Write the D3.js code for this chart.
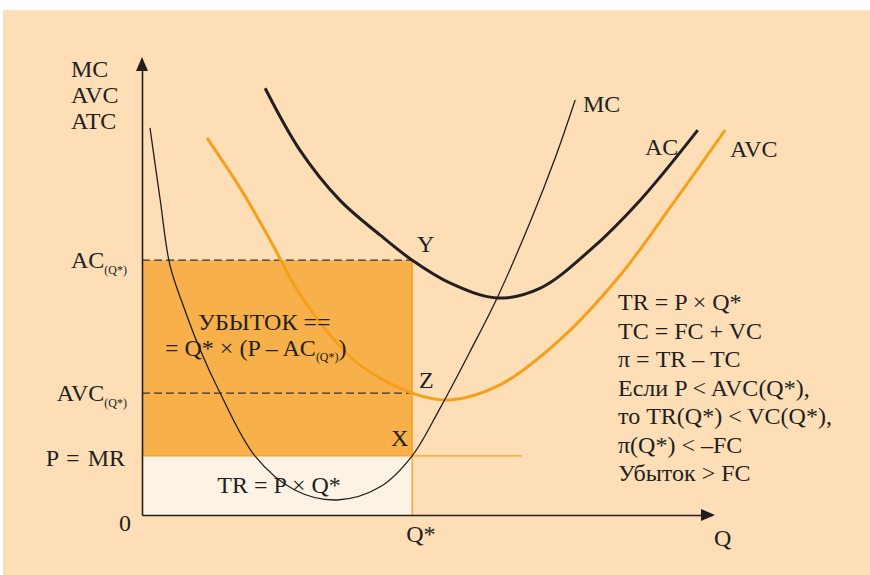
<!DOCTYPE html>
<html>
<head>
<meta charset="utf-8">
<script src="https://cdn.jsdelivr.net/npm/d3@7"></script>
<style>
  body { margin: 0; background: #fff; }
  svg text { font-family: "Liberation Serif", "Times New Roman", Times, "DejaVu Serif", serif; fill: #231f20; }
</style>
</head>
<body>
<svg id="chart"></svg>
<script>
// кривые (Q, издержки) в условных единицах
const mcPoints = [[0.14, 8.51], [0.32, 6.92], [0.49, 5.49], [0.75, 4.51], [1.02, 3.63], [1.37, 2.68],
  [1.98, 1.30], [2.68, 0.55], [3.42, 0.33], [4.18, 0.62], [4.74, 1.30], [5.23, 2.35], [5.75, 3.58],
  [6.23, 4.77], [6.81, 6.44], [7.25, 7.85], [7.60, 9.12]];
const acPoints = [[2.16, 9.38], [2.77, 8.02], [3.47, 6.92], [4.18, 6.15], [4.74, 5.60], [5.40, 5.10],
  [6.23, 4.77], [6.98, 4.98], [7.86, 5.82], [8.74, 6.92], [9.75, 8.46]];
const avcPoints = [[1.14, 8.29], [1.72, 7.19], [2.25, 6.04], [2.72, 4.95], [3.30, 3.96], [3.82, 3.30],
  [4.74, 2.68], [5.40, 2.53], [6.28, 2.86], [7.33, 3.85], [8.39, 5.27], [9.26, 6.75], [10.23, 8.46]];

const qStar = 4.74;
const acQ = 5.60;
const avcQ = 2.68;
const price = 1.30;
const mrEnd = 6.66;

const yLabels = ["MC", "AVC", "ATC"];
const formulas = ["TR = P × Q*", "TC = FC + VC", "π = TR – TC", "Если P < AVC(Q*),",
  "то TR(Q*) < VC(Q*),", "π(Q*) < –FC", "Убыток > FC"];

const W = 870, H = 575;
const svg = d3.select("#chart").attr("width", W).attr("height", H)
  .attr("font-family", "'Liberation Serif', 'Times New Roman', serif");

// фон
svg.append("rect").attr("x", 3).attr("y", 10).attr("width", W - 3).attr("height", H - 10)
  .attr("fill", "#fddeb6");

const x = d3.scaleLinear().domain([0, 10]).range([142, 712]);
const y = d3.scaleLinear().domain([0, 10]).range([515, 60]);

// области убытка и выручки
svg.append("rect")
  .attr("x", x(0)).attr("y", y(acQ))
  .attr("width", x(qStar) - x(0)).attr("height", y(price) - y(acQ))
  .attr("fill", "#f7b04a");
svg.append("rect")
  .attr("x", x(0)).attr("y", y(price))
  .attr("width", x(qStar) - x(0)).attr("height", y(0) - y(price))
  .attr("fill", "#fdf3e4");

// P = MR и вертикаль Q*
svg.append("line")
  .attr("x1", x(0)).attr("x2", x(mrEnd)).attr("y1", y(price)).attr("y2", y(price))
  .attr("stroke", "#f5a01a").attr("stroke-width", 1.3);
svg.append("line")
  .attr("x1", x(qStar)).attr("x2", x(qStar)).attr("y1", y(acQ)).attr("y2", y(0))
  .attr("stroke", "#f5a01a").attr("stroke-width", 1.3);

// пунктиры
[acQ, avcQ].forEach(v => {
  svg.append("line")
    .attr("x1", x(0)).attr("x2", x(qStar)).attr("y1", y(v)).attr("y2", y(v))
    .attr("stroke", "#3a3330").attr("stroke-width", 1.3).attr("stroke-dasharray", "8,4");
});

const line = d3.line().x(d => x(d[0])).y(d => y(d[1])).curve(d3.curveCatmullRom.alpha(0.5));

svg.append("path").attr("d", line(avcPoints)).attr("fill", "none")
  .attr("stroke", "#f5a01a").attr("stroke-width", 3);
svg.append("path").attr("d", line(acPoints)).attr("fill", "none")
  .attr("stroke", "#231f20").attr("stroke-width", 3);
svg.append("path").attr("d", line(mcPoints)).attr("fill", "none")
  .attr("stroke", "#231f20").attr("stroke-width", 1.3);

// оси
const xAxis = svg.append("g").attr("transform", "translate(0," + y(0) + ")")
  .call(d3.axisBottom(x).tickValues([]).tickSizeOuter(0));
const yAxis = svg.append("g").attr("transform", "translate(" + x(0) + ",0)")
  .call(d3.axisLeft(y).tickValues([]).tickSizeOuter(0));
[xAxis, yAxis].forEach(a => a.select(".domain").attr("stroke", "#231f20").attr("stroke-width", 1.6));

svg.append("path")
  .attr("d", `M${x(10) + 3},${y(0)} l-14,-6 l0,12 z`).attr("fill", "#231f20");
svg.append("path")
  .attr("d", `M${x(0)},${y(10) - 3} l-6,14 l12,0 z`).attr("fill", "#231f20");

// подписи
const fs = 24;
yLabels.forEach((t, i) => {
  svg.append("text").attr("x", 71).attr("y", 77 + i * 26).attr("font-size", fs).text(t);
});

function sub(xp, yp, main, s, anchor) {
  const t = svg.append("text").attr("x", xp).attr("y", yp).attr("font-size", fs)
    .attr("text-anchor", anchor || "start");
  t.append("tspan").text(main);
  t.append("tspan").attr("font-size", 12).attr("dy", 6).text(s);
  return t;
}
sub(127, y(acQ) + 8, "AC", "(Q*)", "end");
sub(127, y(avcQ) + 8, "AVC", "(Q*)", "end");
svg.append("text").attr("x", 125).attr("y", y(price) + 10).attr("font-size", fs)
  .attr("text-anchor", "end").attr("word-spacing", 2).text("P = MR");
svg.append("text").attr("x", 119).attr("y", 531).attr("font-size", fs).text("0");
svg.append("text").attr("x", x(qStar) - 6).attr("y", 542).attr("font-size", fs).text("Q*");
svg.append("text").attr("x", 714).attr("y", 546).attr("font-size", fs).text("Q");

svg.append("text").attr("x", 583).attr("y", 112).attr("font-size", fs).text("MC");
svg.append("text").attr("x", 645).attr("y", 155).attr("font-size", fs).text("AC");
svg.append("text").attr("x", 730).attr("y", 157).attr("font-size", fs).text("AVC");

svg.append("text").attr("x", 417).attr("y", 252).attr("font-size", fs).text("Y");
svg.append("text").attr("x", 419).attr("y", 388).attr("font-size", fs).text("Z");
svg.append("text").attr("x", 391).attr("y", 446).attr("font-size", fs).text("X");

svg.append("text").attr("x", 198).attr("y", 330).attr("font-size", fs).text("УБЫТОК ==");
const loss = svg.append("text").attr("x", 165).attr("y", 356).attr("font-size", fs);
loss.append("tspan").text("= Q* × (P – AC");
loss.append("tspan").attr("font-size", 12).attr("dy", 5).text("(Q*)");
loss.append("tspan").attr("dy", -5).text(")");

svg.append("text").attr("x", 279).attr("y", 493).attr("font-size", fs)
  .attr("text-anchor", "middle").text("TR = P × Q*");

formulas.forEach((t, i) => {
  svg.append("text").attr("x", 618).attr("y", 310 + i * 28.5).attr("font-size", fs).text(t);
});
</script>
</body>
</html>
